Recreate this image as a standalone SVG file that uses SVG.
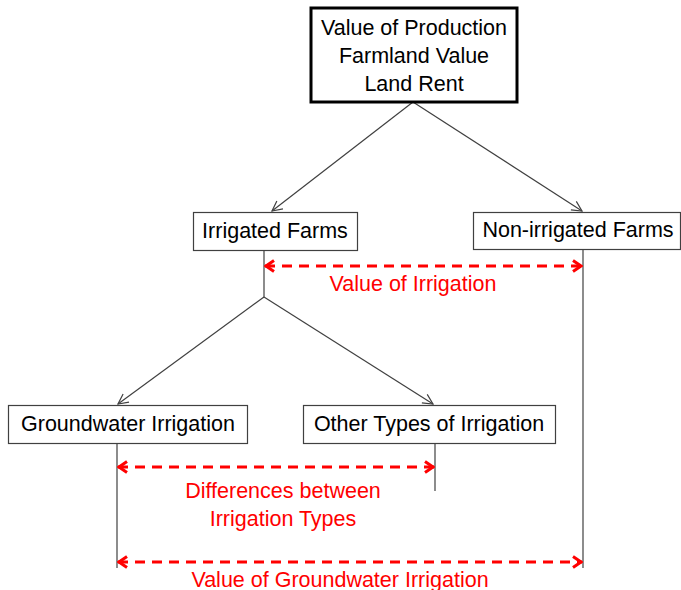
<svg xmlns="http://www.w3.org/2000/svg" width="681" height="590" viewBox="0 0 681 590">
<style>
text{font-family:"Liberation Sans",Arial,sans-serif;font-size:21.5px;text-anchor:middle}
.node rect{fill:#fff;stroke:#404040;stroke-width:1.2}
.blk{fill:#000}
.red{fill:#ff0000}
.conn line{stroke:#404040;stroke-width:1.2;fill:none}
.dash{stroke:#ff0000 !important;stroke-width:3 !important;stroke-dasharray:10 7}
</style>
<defs>
<marker id="ah" viewBox="0 0 12 12" refX="11" refY="6" markerWidth="12" markerHeight="12" markerUnits="userSpaceOnUse" orient="auto">
<path d="M1,1 L11,6 L1,11" fill="none" stroke="#404040" stroke-width="1.2"/>
</marker>
<marker id="rh" viewBox="0 0 12 14" refX="11" refY="7" markerWidth="12" markerHeight="14" markerUnits="userSpaceOnUse" orient="auto-start-reverse">
<path d="M2,1.5 L10,7 L2,12.5" fill="none" stroke="#ff0000" stroke-width="3"/>
</marker>
</defs>
<g id="connectors" class="conn">
<line x1="413" y1="102" x2="272" y2="211" marker-end="url(#ah)"/>
<line x1="413" y1="102" x2="582" y2="211" marker-end="url(#ah)"/>
<line x1="264" y1="251" x2="264" y2="297"/>
<line x1="264" y1="297" x2="118" y2="404" marker-end="url(#ah)"/>
<line x1="264" y1="297" x2="433" y2="404" marker-end="url(#ah)"/>
<line x1="583" y1="249" x2="583" y2="568"/>
<line x1="117" y1="443" x2="117" y2="568"/>
<line x1="435" y1="443" x2="435" y2="491"/>
<line class="dash" x1="265" y1="266" x2="582" y2="266" marker-start="url(#rh)" marker-end="url(#rh)"/>
<line class="dash" x1="118" y1="467" x2="434" y2="467" marker-start="url(#rh)" marker-end="url(#rh)"/>
<line class="dash" x1="118" y1="562" x2="582" y2="562" marker-start="url(#rh)" marker-end="url(#rh)"/>
</g>
<g id="top" class="node">
<rect x="311" y="8" width="206" height="94" style="stroke:#000;stroke-width:3"/>
<text class="blk" x="414" y="35">Value of Production</text>
<text class="blk" x="414" y="63">Farmland Value</text>
<text class="blk" x="414" y="91">Land Rent</text>
</g>
<g id="irrigated" class="node">
<rect x="193.5" y="212.5" width="164" height="38"/>
<text class="blk" x="275" y="238">Irrigated Farms</text>
</g>
<g id="nonirrigated" class="node">
<rect x="473.5" y="212.5" width="207" height="37"/>
<text class="blk" x="578" y="237">Non-irrigated Farms</text>
</g>
<g id="groundwater" class="node">
<rect x="8.5" y="405.5" width="239" height="38"/>
<text class="blk" x="128" y="431">Groundwater Irrigation</text>
</g>
<g id="other" class="node">
<rect x="303.5" y="405.5" width="252" height="38"/>
<text class="blk" x="429" y="431">Other Types of Irrigation</text>
</g>
<g id="labels">
<text class="red" x="413" y="291">Value of Irrigation</text>
<text class="red" x="283" y="498">Differences between</text>
<text class="red" x="283" y="526">Irrigation Types</text>
<text class="red" x="340" y="587">Value of Groundwater Irrigation</text>
</g>
</svg>
